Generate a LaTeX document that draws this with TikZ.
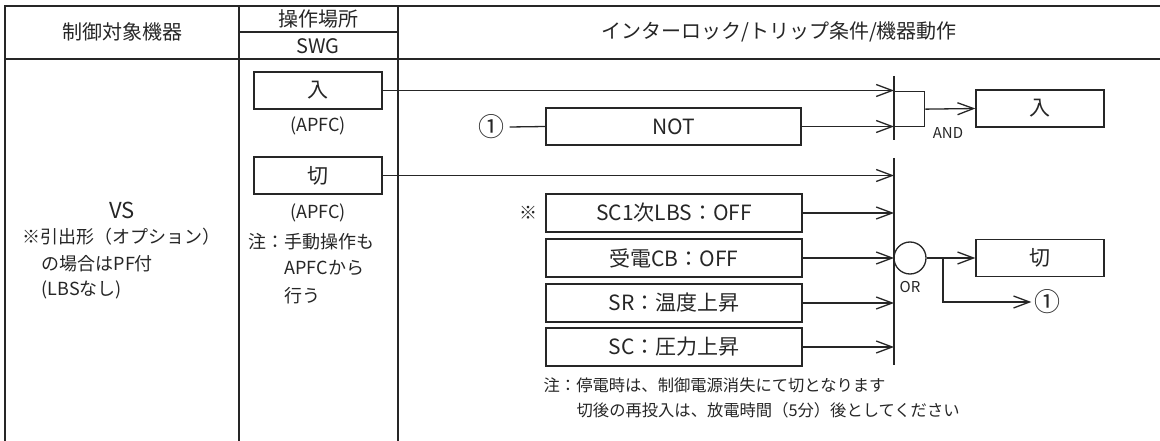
\documentclass[tikz,border=0pt]{standalone}
\usepackage{fontspec}
\setmainfont{Noto Sans CJK JP}
\usetikzlibrary{arrows.meta}
\definecolor{ink}{HTML}{262626}
\begin{document}
\begin{tikzpicture}[x=1pt,y=-1pt,line width=1.3pt,color=ink,
  every node/.style={inner sep=0pt},
  hdr/.style={font=\fontsize{20}{24}\selectfont},
  txt/.style={font=\fontsize{18}{22}\selectfont},
  note/.style={font=\fontsize{16.3}{20}\selectfont},
  lbl/.style={font=\fontsize{15}{18}\selectfont},
  circ/.style={font=\fontsize{26}{30}\selectfont},
  box/.style={draw,line width=1.3pt,minimum height=37pt,minimum width=128pt,font=\fontsize{21}{25}\selectfont},
  wbox/.style={box,minimum width=256pt,minimum height=38pt},
  arr/.style={-{Straight Barb[length=16pt,width=12pt]}},
  bar/.style={line width=1.3pt}
]
\useasboundingbox (0,0) rectangle (1160,441);
% table frame
\draw[line width=2pt] (4,6) -- (1160,6);
\draw (5,6) -- (5,441);
\draw (5,59) -- (1160,59);
\draw (239,6) -- (239,441);
\draw (398,6) -- (398,441);
\draw (239,32) -- (398,32);
% headers
\node[hdr] (h1) at (122,32) {制御対象機器};
\node[hdr] (h2) at (318,19) {操作場所};
\node[hdr] (h3) at (318,46) {SWG};
\node[hdr] (h4) at (779,32) {インターロック/トリップ条件/機器動作};
% left column
\node[font=\fontsize{22}{26}\selectfont] (vs) at (122,210) {VS};
\node[txt,anchor=west] (vs1) at (22,237) {※引出形（オプション）};
\node[txt,anchor=west] (vs2) at (41,264) {の場合はPF付};
\node[txt,anchor=west] (vs3) at (41,290) {(LBSなし)};
% operation column
\node[box] (inL) at (318,90.5) {入};
\node[txt] (apfc1) at (318,126) {(APFC)};
\node[box] (offL) at (318,175.5) {切};
\node[txt] (apfc2) at (318,213) {(APFC)};
\node[txt,anchor=west] (n1) at (248,242) {注：手動操作も};
\node[txt,anchor=west] (n2) at (284,268) {APFCから};
\node[txt,anchor=west] (n3) at (284,296) {行う};
% AND section
\coordinate (andT) at (894,76);
\coordinate (andB) at (894,140);
\draw[bar] (andT) -- (andB);
\node[wbox,minimum width=255pt,minimum height=37pt] (not) at (673.5,126.5) {NOT};
\node[circ] (c1a) at (491,127) {①};
\draw (c1a.east) ++(5,0) -- (not.west);
\node[draw,minimum width=30pt,minimum height=35pt,anchor=north west] (and) at (894,91) {};
\draw[arr] (inL.east) -- (inL.east -| andT);
\draw[arr] (not.east) -- (not.east -| andT);
\node[box] (inR) at (1040,108.5) {入};
\draw[arr] (and.east) -- (inR.west);
\node[lbl] (andl) at (948,133) {AND};
% OR section
\coordinate (orT) at (894,158);
\coordinate (orB) at (894,365);
\draw[bar] (orT) -- (orB);
\draw[arr] (offL.east) -- (offL.east -| orT);
\node[wbox] (c1) at (674,213) {SC1次LBS：OFF};
\node[wbox] (c2) at (674,258) {受電CB：OFF};
\node[wbox] (c3) at (674,303) {SR：温度上昇};
\node[wbox] (c4) at (674,347) {SC：圧力上昇};
\node[txt] (ast) at (528,213) {※};
\draw[arr] (c1.east) -- (c1.east -| orT);
\draw[arr] (c2.east) -- (c2.east -| orT);
\draw[arr] (c3.east) -- (c3.east -| orT);
\draw[arr] (c4.east) -- (c4.east -| orT);
\node[draw,circle,minimum size=32pt] (or) at (910,258) {};
\node[lbl] (orl) at (910,287) {OR};
\node[box] (offR) at (1040,258) {切};
\draw[arr] (or.east) -- (offR.west);
\coordinate (br) at (943,258);
\node[circ,inner sep=2pt] (c1b) at (1047,302) {①};
\draw[arr] (br) |- (c1b.west);
% notes
\node[note,anchor=west] (b1) at (543,385) {注：停電時は、制御電源消失にて切となります};
\node[note,anchor=west] (b2) at (576,410) {切後の再投入は、放電時間（5分）後としてください};
\end{tikzpicture}
\end{document}
